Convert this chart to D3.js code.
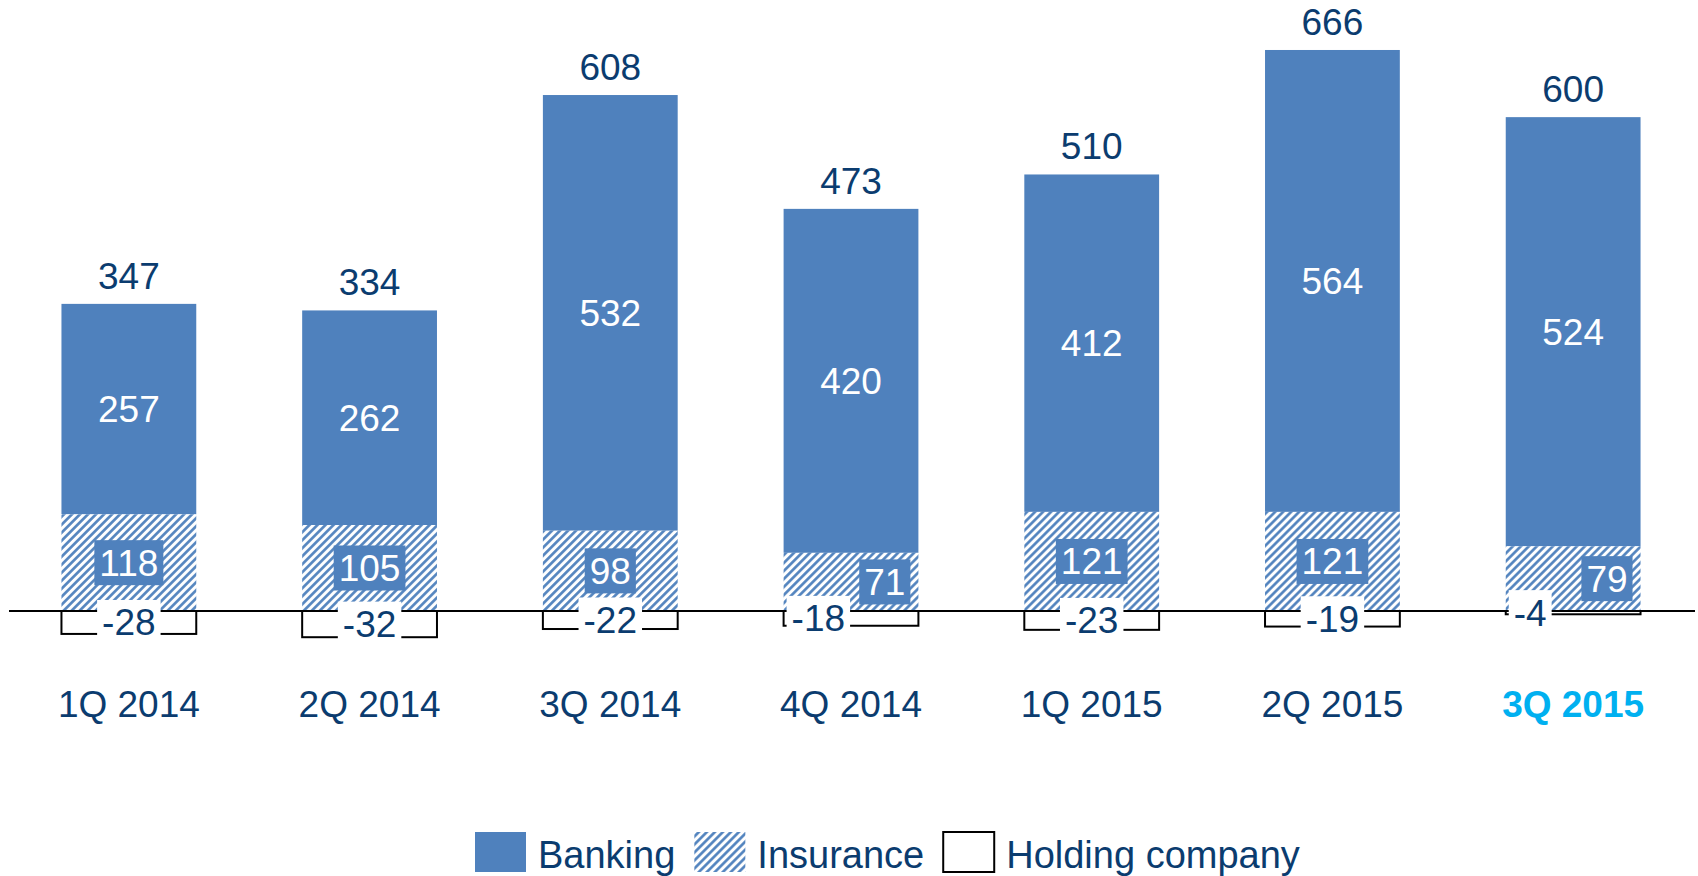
<!DOCTYPE html>
<html>
<head>
<meta charset="utf-8">
<script src="https://cdn.jsdelivr.net/npm/d3@7"></script>
<style>
  body { margin: 0; background: #fff; }
  text { font-family: "Liberation Sans", Arial, sans-serif; }
</style>
</head>
<body>
<div id="chart"></div>
<script>
var svgWidth = 1698;
var svgHeight = 876;

// chart data
var quarters = ["1Q 2014", "2Q 2014", "3Q 2014", "4Q 2014", "1Q 2015", "2Q 2015", "3Q 2015"];
var banking = [257, 262, 532, 420, 412, 564, 524];
var insurance = [118, 105, 98, 71, 121, 121, 79];
var holding = [-28, -32, -22, -18, -23, -19, -4];
var totals = [347, 334, 608, 473, 510, 666, 600];
var legendNames = ["Banking", "Insurance", "Holding company"];

var barColor = "#4F81BD";
var textColor = "#0b3c6f";
var highlight = "#00B0F0";
var fontSize = 37;

var svg = d3.select("#chart")
  .append("svg")
  .attr("width", svgWidth)
  .attr("height", svgHeight);

// hatch pattern for insurance
var defs = svg.append("defs");
var hatch = defs.append("pattern")
  .attr("id", "hatch")
  .attr("patternUnits", "userSpaceOnUse")
  .attr("width", 5.66)
  .attr("height", 5.66)
  .attr("patternTransform", "rotate(45)");
hatch.append("rect")
  .attr("width", 5.66).attr("height", 5.66).attr("fill", "#fff");
hatch.append("line")
  .attr("x1", 1.4).attr("x2", 1.4).attr("y1", 0).attr("y2", 5.66)
  .attr("stroke", barColor).attr("stroke-width", 2.6);

var xScale = d3.scaleBand()
  .domain(quarters)
  .range([8.5, 1693.5])
  .paddingInner(0.44)
  .paddingOuter(0.22);

var yScale = d3.scaleLinear()
  .domain([-100, 700])
  .range([692.9, 37.7]);

var rows = quarters.map((q, i) => ({
  q: q, bank: banking[i], ins: insurance[i], hold: holding[i], total: totals[i], last: i === quarters.length - 1
}));

var barsGroup = svg.append("g");

// banking
barsGroup.selectAll(".bank")
  .data(rows).enter().append("rect")
  .attr("x", d => xScale(d.q))
  .attr("width", xScale.bandwidth())
  .attr("y", d => yScale(d.ins + d.bank))
  .attr("height", d => yScale(d.ins) - yScale(d.ins + d.bank))
  .attr("fill", barColor);

// insurance
barsGroup.selectAll(".ins")
  .data(rows).enter().append("rect")
  .attr("x", d => xScale(d.q))
  .attr("width", xScale.bandwidth())
  .attr("y", d => yScale(d.ins))
  .attr("height", d => yScale(0) - yScale(d.ins))
  .attr("fill", "url(#hatch)");

// holding company
barsGroup.selectAll(".hold")
  .data(rows).enter().append("rect")
  .attr("x", d => xScale(d.q))
  .attr("width", xScale.bandwidth())
  .attr("y", yScale(0))
  .attr("height", d => yScale(d.hold) - yScale(0))
  .attr("fill", "#fff")
  .attr("stroke", "#000")
  .attr("stroke-width", 2);

// baseline
svg.append("line")
  .attr("x1", 9).attr("x2", 1695)
  .attr("y1", yScale(0)).attr("y2", yScale(0))
  .attr("stroke", "#000").attr("stroke-width", 2);

var labels = svg.append("g");
var boxH = 45, pad = 5;

// boxed label helper
function boxedLabel(g, txt, cx, cy, align, fill, color) {
  var t = g.append("text")
    .attr("font-size", fontSize)
    .attr("fill", color)
    .attr("y", cy + 13)
    .text(txt);
  var w = t.node().getComputedTextLength() + pad * 2;
  var left = align === "middle" ? cx - w / 2 : (align === "start" ? cx : cx - w);
  t.attr("x", left + pad);
  g.insert("rect", "text")
    .attr("x", left).attr("y", cy - boxH / 2)
    .attr("width", w).attr("height", boxH)
    .attr("fill", fill);
}

rows.forEach(d => {
  var x0 = xScale(d.q), bw = xScale.bandwidth(), cx = x0 + bw / 2;
  var g = labels.append("g");

  // banking value, centred in segment
  g.append("text")
    .attr("x", cx)
    .attr("y", (yScale(d.ins + d.bank) + yScale(d.ins)) / 2 + 13)
    .attr("text-anchor", "middle")
    .attr("font-size", fontSize)
    .attr("fill", "#fff")
    .text(d.bank);

  // total on top
  g.append("text")
    .attr("x", cx)
    .attr("y", yScale(d.ins + d.bank) - 15)
    .attr("text-anchor", "middle")
    .attr("font-size", fontSize)
    .attr("fill", textColor)
    .text(d.total);

  var insY = (yScale(d.ins) + yScale(0)) / 2;
  var holdY = (yScale(0) + yScale(d.hold)) / 2;
  // push labels apart sideways when the boxes would collide
  var clash = insY + boxH / 2 > holdY - boxH / 2 + 4;

  var gi = labels.append("g");
  if (clash) boxedLabel(gi, d.ins, x0 + bw - 8, insY, "end", barColor, "#fff");
  else boxedLabel(gi, d.ins, cx, insY, "middle", barColor, "#fff");

  var gh = labels.append("g");
  if (clash) boxedLabel(gh, d.hold, x0 + 3, holdY, "start", "#fff", textColor);
  else boxedLabel(gh, d.hold, cx, holdY, "middle", "#fff", textColor);
});

// category labels
svg.append("g").selectAll("text")
  .data(rows).enter().append("text")
  .attr("x", d => xScale(d.q) + xScale.bandwidth() / 2)
  .attr("y", 717)
  .attr("text-anchor", "middle")
  .attr("font-size", fontSize)
  .attr("font-weight", d => d.last ? "bold" : "normal")
  .attr("fill", d => d.last ? highlight : textColor)
  .text(d => d.q);

// legend
var legend = svg.append("g");
var lx = 475;
var fills = [barColor, "url(#hatch)", "#fff"];
legendNames.forEach((name, i) => {
  var sw = legend.append("rect")
    .attr("x", lx).attr("y", 832)
    .attr("width", 51).attr("height", 40)
    .attr("fill", fills[i]);
  if (i === 2) sw.attr("stroke", "#000").attr("stroke-width", 2);
  var t = legend.append("text")
    .attr("x", lx + 63).attr("y", 868)
    .attr("font-size", 38)
    .attr("fill", textColor)
    .text(name);
  lx += 63 + t.node().getComputedTextLength() + 19;
});
</script>
</body>
</html>
